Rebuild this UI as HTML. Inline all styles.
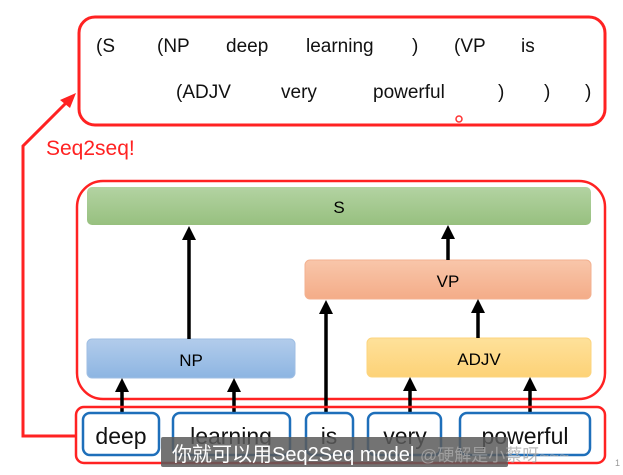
<!DOCTYPE html>
<html><head><meta charset="utf-8"><style>
body{margin:0;background:#fff;width:623px;height:475px;overflow:hidden;position:relative;font-family:"Liberation Sans","Noto Sans CJK SC",sans-serif}
</style></head><body>
<svg width="623" height="475" style="position:absolute;left:0;top:0" font-family="Liberation Sans, Noto Sans CJK SC, sans-serif">
<defs>
<linearGradient id="g" x1="0" y1="0" x2="0" y2="1"><stop offset="0" stop-color="#b3d3a2"/><stop offset="1" stop-color="#97c07f"/></linearGradient>
<linearGradient id="o" x1="0" y1="0" x2="0" y2="1"><stop offset="0" stop-color="#f8c6aa"/><stop offset="1" stop-color="#f4ac88"/></linearGradient>
<linearGradient id="b" x1="0" y1="0" x2="0" y2="1"><stop offset="0" stop-color="#b2cceb"/><stop offset="1" stop-color="#8db5e2"/></linearGradient>
<linearGradient id="y" x1="0" y1="0" x2="0" y2="1"><stop offset="0" stop-color="#fee19a"/><stop offset="1" stop-color="#fdd277"/></linearGradient>
<marker id="a" markerWidth="4" markerHeight="4" refX="2" refY="2" orient="auto"><path d="M0,0 L4,2 L0,4 z" fill="#000"/></marker>
</defs>
<rect x="79" y="17" width="526" height="108" rx="16" fill="#fff" stroke="#f22" stroke-width="3"/>
<g font-size="19" fill="#111">
<text x="96" y="52">(S</text><text x="157" y="52">(NP</text><text x="226" y="52">deep</text><text x="306" y="52">learning</text><text x="412" y="52">)</text><text x="454" y="52">(VP</text><text x="521" y="52">is</text>
<text x="176" y="98">(ADJV</text><text x="281" y="98">very</text><text x="373" y="98">powerful</text><text x="498" y="98">)</text><text x="544" y="98">)</text><text x="585" y="98">)</text>
</g>
<circle cx="459" cy="119" r="3" fill="none" stroke="#f33" stroke-width="1.5"/>
<polyline points="76,436 23,436 23,146 68,101" fill="none" stroke="#f22" stroke-width="3"/>
<path d="M76,93 L60,100 L70,108 z" fill="#f22"/>
<text x="46" y="155" font-size="21" fill="#f22">Seq2seq!</text>
<rect x="77" y="181" width="528" height="218" rx="26" fill="#fff" stroke="#f22" stroke-width="2.5"/>
<rect x="87" y="187" width="504" height="38" rx="5" fill="url(#g)"/>
<text x="339" y="213" font-size="17" text-anchor="middle">S</text>
<rect x="305" y="260" width="286" height="39" rx="5" fill="url(#o)" stroke="#f3b190"/>
<text x="448" y="287" font-size="17" text-anchor="middle">VP</text>
<rect x="87" y="339" width="208" height="39" rx="5" fill="url(#b)" stroke="#9fbee3"/>
<text x="191" y="366" font-size="17" text-anchor="middle">NP</text>
<rect x="367" y="338" width="224" height="39" rx="5" fill="url(#y)" stroke="#fcd47e"/>
<text x="479" y="365" font-size="17" text-anchor="middle">ADJV</text>
<g stroke="#000" stroke-width="3.5" marker-end="url(#a)">
<line x1="189" y1="339" x2="189" y2="233"/>
<line x1="448" y1="260" x2="448" y2="232"/>
<line x1="478" y1="338" x2="478" y2="306"/>
<line x1="326" y1="413" x2="326" y2="307"/>
<line x1="122" y1="413" x2="122" y2="385"/>
<line x1="234" y1="413" x2="234" y2="385"/>
<line x1="410" y1="413" x2="410" y2="384"/>
<line x1="530" y1="413" x2="530" y2="384"/>
</g>
<rect x="76" y="407" width="529" height="56" rx="8" fill="none" stroke="#f22" stroke-width="2.5"/>
<g fill="#fff" stroke="#1e6fba" stroke-width="2.5">
<rect x="83" y="413" width="76" height="42" rx="7"/><rect x="173" y="413" width="117" height="42" rx="7"/>
<rect x="306" y="413" width="47" height="42" rx="7"/><rect x="368" y="413" width="73" height="42" rx="7"/>
<rect x="460" y="413" width="130" height="42" rx="7"/>
</g>
<g font-size="23" fill="#111" text-anchor="middle">
<text x="121" y="444">deep</text><text x="231" y="444">learning</text><text x="329" y="444">is</text><text x="405" y="444">very</text><text x="525" y="444">powerful</text>
</g>
<rect x="161" y="437" width="347" height="30" rx="2" fill="#5a5a5a" opacity="0.85"/>
<text x="172" y="461" font-size="20" fill="#fff">你就可以用Seq2Seq model</text>
<text x="420" y="461" font-size="17" fill="#aaa" opacity="0.8">@硬解是小蔡呀~~~</text>
<text x="615" y="466" font-size="9" fill="#999">1</text>
</svg>
</body></html>
